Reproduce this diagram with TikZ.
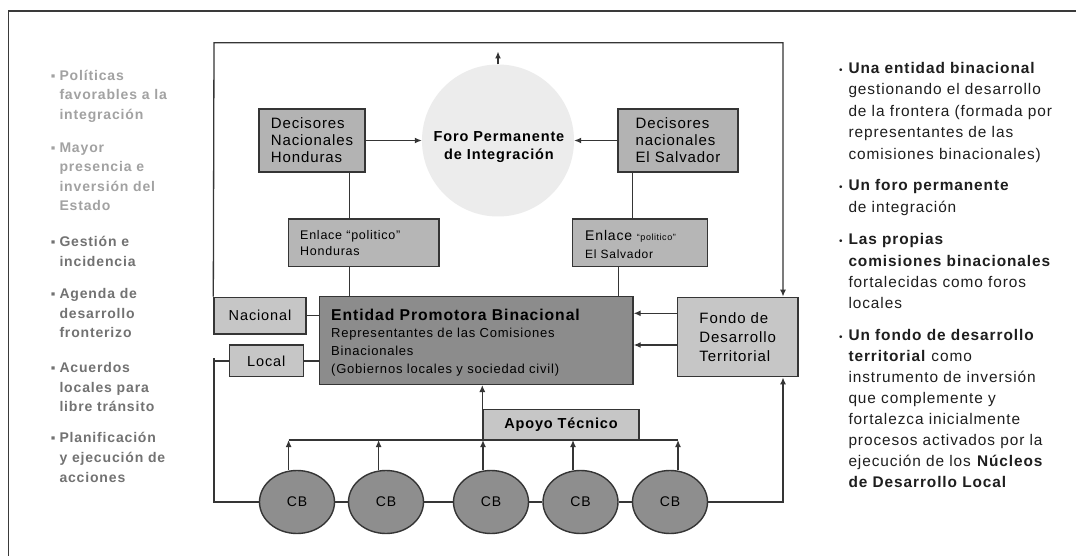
\documentclass[tikz,border=0pt]{standalone}
\usepackage{fontspec}
\setmainfont{Liberation Sans}[LetterSpace=6]
\usetikzlibrary{arrows.meta,shapes.geometric}
\definecolor{linec}{HTML}{353535}
\definecolor{framec}{HTML}{3A3A3A}
\definecolor{decis}{HTML}{B3B3B3}
\definecolor{enlac}{HTML}{B6B6B6}
\definecolor{lightc}{HTML}{C6C6C6}
\definecolor{entc}{HTML}{8C8C8C}
\definecolor{cbc}{HTML}{8E8E8E}
\definecolor{foroc}{HTML}{ECECEC}
\definecolor{txtlight}{HTML}{A2A2A2}
\definecolor{txtdark}{HTML}{727272}
\definecolor{txtc}{HTML}{1E1E1E}
\newcommand{\setfs}[2]{\fontsize{#1}{#2}\selectfont}
\newcommand{\lbul}{\llap{{\mdseries\setfs{13}{13}▪}\hspace{4pt}}}
\newcommand{\rbul}{\llap{{\mdseries\setfs{10}{10}•}\hspace{6pt}}}
\begin{document}
\begin{tikzpicture}[x=1pt,y=-1pt,
  box/.style={draw=linec,line width=1.4pt,inner sep=0pt},
  conn/.style={draw=linec,line width=1.3pt},
  arr/.style={conn,-{Latex[length=7pt,width=6pt]}},
  ltext/.style={anchor=west,align=left,inner sep=0pt,font=\bfseries\setfs{14}{19.6}},
  rtext/.style={anchor=west,align=left,inner sep=0pt,text=txtc,font=\setfs{15.4}{21.4}},
  cbnode/.style={ellipse,draw=linec,line width=1.4pt,fill=cbc,minimum width=75pt,minimum height=63pt,inner sep=0pt,font=\setfs{14}{17}}
]
\fill[white] (0,0) rectangle (1076,556);
\useasboundingbox (0,0) rectangle (1076,556);
\draw[framec,line width=1.3pt] (8.5,556) -- (8.5,11) -- (1076,11);

% ---------- left list ----------
\node[ltext,text=txtlight] (l1) at (59.3,96) {\lbul Políticas\\favorables a la\\integración};
\node[ltext,text=txtlight] (l2) at (59.3,176.7) {\lbul Mayor\\presencia e\\inversión del\\Estado};
\node[ltext,text=txtdark] (l3) at (59.3,251.2) {\lbul Gestión e\\incidencia};
\node[ltext,text=txtdark] (l4) at (59.3,313.3) {\lbul Agenda de\\desarrollo\\fronterizo};
\node[ltext,text=txtdark] (l5) at (59.3,387) {\lbul Acuerdos\\locales para\\libre tránsito};
\node[ltext,text=txtdark] (l6) at (59.3,457.4) {\lbul Planificación\\y ejecución de\\acciones};

% ---------- right list ----------
\node[rtext] (r1) at (848.3,112.4) {\rbul\textbf{Una entidad binacional}\\gestionando el desarrollo\\de la frontera (formada por\\representantes de las\\comisiones binacionales)};
\node[rtext] (r2) at (848.3,197.5) {\rbul\textbf{Un foro permanente}\\de integración};
\node[rtext] (r3) at (848.3,271.3) {\rbul\textbf{Las propias}\\\textbf{comisiones binacionales}\\fortalecidas como foros\\locales};
\node[rtext,font=\setfs{15.4}{21.05}] (r4) at (848.3,408.8) {\rbul\textbf{Un fondo de desarrollo}\\\textbf{territorial} como\\instrumento de inversión\\que complemente y\\fortalezca inicialmente\\procesos activados por la\\ejecución de los \textbf{Núcleos}\\\textbf{de Desarrollo Local}};

% ---------- central diagram ----------
\node[circle,fill=foroc,minimum size=152pt,inner sep=0pt] (foro) at (498,140.5) {};
\node[font=\bfseries\setfs{14.5}{18.7},align=center,inner sep=0pt] (forotxt) at (499,147) {Foro Permanente\\de Integración};

\node[box,fill=decis,minimum width=106pt,minimum height=63pt,align=left,font=\setfs{15}{17}] (hon) at (312,140.5) {Decisores\\Nacionales\\Honduras};
\node[box,fill=decis,minimum width=120pt,minimum height=63pt,align=left,font=\setfs{15}{17}] (es) at (678,140.5) {Decisores\\nacionales\\El Salvador};

\node[box,fill=enlac,minimum width=150.7pt,minimum height=47.7pt] (enh) at (363.65,242.85) {};
\node[anchor=west,align=left,inner sep=0pt,font=\setfs{12.5}{16.3}] (enhtxt) at (300,243) {Enlace “politico”\\Honduras};
\node[box,fill=enlac,minimum width=134.8pt,minimum height=47.7pt] (enes) at (640.1,242.85) {};
\node[anchor=west,align=left,inner sep=0pt,font=\setfs{14}{17.6}] (enestxt) at (585,244.5) {Enlace {\setfs{9}{10}“politico”}\\{\setfs{12}{17.6}El Salvador}};

\node[box,fill=entc,minimum width=313.7pt,minimum height=87.6pt] (ent) at (476.15,340.5) {};
\node[anchor=west,inner sep=0pt,font=\bfseries\setfs{15.7}{19}] (enttitle) at (331,315) {Entidad Promotora Binacional};
\node[anchor=west,align=left,inner sep=0pt,font=\setfs{13}{18}] (entbody) at (331,352.5) {Representantes de las Comisiones\\Binacionales\\(Gobiernos locales y sociedad civil)};

\node[box,fill=lightc,minimum width=92pt,minimum height=36.7pt,font=\setfs{14.5}{17}] (nac) at (260,315.65) {Nacional};
\node[box,fill=lightc,minimum width=74pt,minimum height=31.7pt,font=\setfs{14.5}{17}] (loc) at (266.3,360.85) {Local};

\node[box,fill=lightc,minimum width=120.6pt,minimum height=79.4pt,align=left,font=\setfs{15}{18.7}] (fondo) at (737.7,337) {Fondo de\\Desarrollo\\Territorial};

\node[box,fill=lightc,minimum width=156pt,minimum height=30pt,font=\bfseries\setfs{14.5}{17}] (apoyo) at (561,424.3) {Apoyo Técnico};

\node[cbnode] (cb1) at (297,502) {CB};
\node[cbnode] (cb2) at (386,502) {CB};
\node[cbnode] (cb3) at (491,502) {CB};
\node[cbnode] (cb4) at (580.5,502) {CB};
\node[cbnode] (cb5) at (670,502) {CB};

% ---------- connectors ----------
\coordinate (ltl) at (214,42.7);
\coordinate (ltr) at (783,42.7);
\draw[arr] (nac.north west) -- (ltl) -- (ltr) -- (ltr |- fondo.north);

\coordinate (fu) at (498,51.5);
\draw[arr] (foro.north) -- (fu);
\draw[arr] (hon.east) -- (foro.west);
\draw[arr] (es.west) -- (foro.east);

\coordinate (xh) at (349.4,0);
\draw[conn] (hon.south -| xh) -- (enh.north -| xh);
\draw[conn] (enh.south -| xh) -- (ent.north -| xh);
\coordinate (xes1) at (632.3,0);
\coordinate (xes2) at (618.3,0);
\draw[conn] (es.south -| xes1) -- (enes.north -| xes1);
\draw[conn] (enes.south -| xes2) -- (ent.north -| xes2);

\draw[conn] (nac.east) -- (nac.east -| ent.west);
\draw[conn] (loc.east) -- (loc.east -| ent.west);

\coordinate (fy1) at (0,313.3);
\coordinate (fy2) at (0,345);
\draw[arr] (fondo.west |- fy1) -- (ent.east |- fy1);
\draw[arr] (fondo.west |- fy2) -- (ent.east |- fy2);

\coordinate (ltick) at (214,358);
\coordinate (lbl) at (214,502);
\coordinate (lbr) at (783,502);
\draw[conn] (loc.west) -- (loc.west -| lbl);
\draw[conn] (ltick) -- (lbl) -- (cb1);
\draw[conn] (cb1) -- (cb2);
\draw[conn] (cb2) -- (cb3);
\draw[conn] (cb3) -- (cb4);
\draw[conn] (cb4) -- (cb5);
\draw[arr] (cb5) -- (lbr) -- (lbr |- fondo.south);

\coordinate (ay) at (0,440);
\coordinate (a1) at ([xshift=-8.4pt]cb1.north);
\coordinate (a2) at ([xshift=-7.4pt]cb2.north);
\coordinate (a3) at ([xshift=-8pt]cb3.north);
\coordinate (a4) at ([xshift=-7.5pt]cb4.north);
\coordinate (a5) at ([xshift=8pt]cb5.north);
\draw[conn] (a1 |- ay) -- (a5 |- ay);
\draw[arr] (a1) -- (a1 |- ay);
\draw[arr] (a2) -- (a2 |- ay);
\draw[arr] (a3) -- (a3 |- ay);
\draw[arr] (a4) -- (a4 |- ay);
\draw[arr] (a5) -- (a5 |- ay);
\draw[arr] (apoyo.south west) -- (apoyo.south west |- ent.south);
\end{tikzpicture}
\end{document}
